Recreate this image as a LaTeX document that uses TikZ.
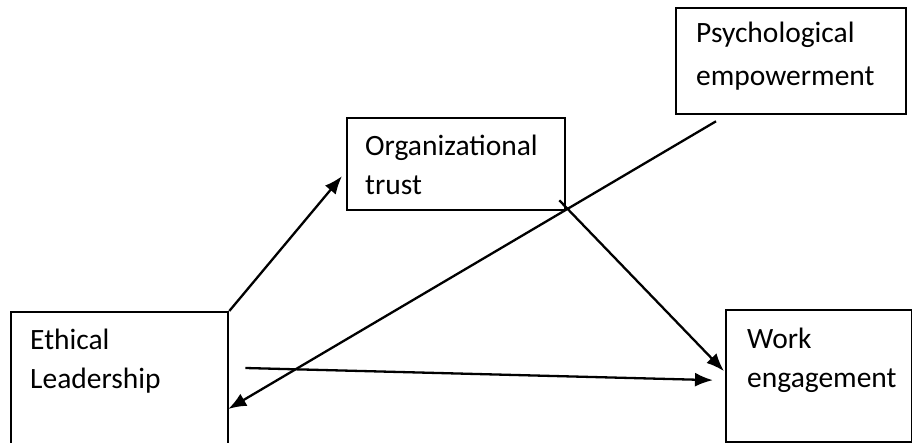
\documentclass[tikz,border=0pt]{standalone}
\usepackage{fontspec}
\setmainfont{Carlito}
\usepackage{tikz}
\usetikzlibrary{arrows.meta}

\tikzset{
  box/.style={draw,line width=2.3pt,rectangle,inner sep=0pt,anchor=north west},
  lbl/.style={anchor=base west,inner sep=0pt,align=left,font=\fontsize{29.5}{39}\selectfont},
  conn/.style={->,line width=2.3pt},
  >={Latex[length=18pt,width=14pt]}
}

\begin{document}
\begin{tikzpicture}[x=1pt,y=-1pt]
\clip (0,0) rectangle (912,443);
\path (10,311) node[box,minimum width=217pt,minimum height=150pt] (lead) {};
\path (346,117) node[box,minimum width=218pt,minimum height=92pt] (trust) {};
\path (675,7) node[box,minimum width=230pt,minimum height=106pt] (psych) {};
\path (725,309) node[box,minimum width=186pt,minimum height=132pt] (work) {};

% base west = baseline of the last line
\path (30,388) node[lbl] (leadtxt) {Ethical\\Leadership};
\path (365,195) node[lbl] (trusttxt) {Organizational\\trust};
\path (696,86) node[lbl] (psychtxt) {Psychological\\[4pt]empowerment};
\path (747,387) node[lbl] (worktxt) {Work\\engagement};

\draw[conn] (lead.north east) -- ([shift={(-4,12)}]trust.west);
\draw[conn] ([shift={(-7,-11)}]trust.south east) -- ([shift={(-1,-5)}]work.west);
\draw[conn] ([shift={(41,6)}]psych.south west) -- ([shift={(-1,98)}]lead.north east);
\draw[conn] ([shift={(16,57)}]lead.north east) -- ([shift={(-12,4)}]work.west);
\end{tikzpicture}
\end{document}
